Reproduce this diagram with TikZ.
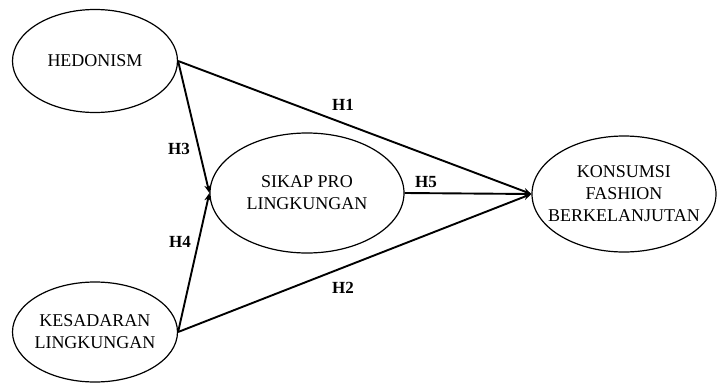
\documentclass[tikz,border=0pt]{standalone}
\usepackage{fontspec}
\setmainfont{Liberation Serif}
\usetikzlibrary{shapes.geometric,arrows.meta}
\begin{document}
\begin{tikzpicture}[x=1pt,y=-1pt,
  construct/.style={ellipse,draw,line width=1.2pt,inner sep=0pt},
  caption/.style={align=center,inner sep=0pt,font=\fontsize{18}{22}\selectfont},
  path/.style={line width=1.9pt,-{Stealth[length=8pt,width=6.5pt]}},
  hyp/.style={font=\fontsize{17}{20}\selectfont\bfseries}]
\useasboundingbox (0,0) rectangle (718,383);
% constructs (outline and caption)
\node[construct,minimum width=165pt,minimum height=103pt] (hed) at (95,61) {};
\node[caption] (hedtext) at (hed.center) {HEDONISM};
\node[construct,minimum width=165pt,minimum height=100pt] (kes) at (95,332) {};
\node[caption] (kestext) at (kes.center) {KESADARAN\\LINGKUNGAN};
\node[construct,minimum width=194pt,minimum height=120pt] (sik) at (307,193) {};
\node[caption] (siktext) at (sik.center) {SIKAP PRO\\LINGKUNGAN};
\node[construct,minimum width=184pt,minimum height=116pt] (kon) at (624,194) {};
\node[caption] (kontext) at (kon.center) {KONSUMSI\\FASHION\\BERKELANJUTAN};
% hypothesised paths
\draw[path] (hed.east) -- (kon.west);
\draw[path] (kes.east) -- (kon.west);
\draw[path] (hed.east) -- (sik.west);
\draw[path] (kes.east) -- (sik.west);
\draw[path] (sik.east) -- (kon.west);
% path labels
\node[hyp] (h1) at (343,105) {H1};
\node[hyp] (h2) at (343,288) {H2};
\node[hyp] (h3) at (179,149) {H3};
\node[hyp] (h4) at (180,242) {H4};
\node[hyp] (h5) at (426,182) {H5};
\end{tikzpicture}
\end{document}
